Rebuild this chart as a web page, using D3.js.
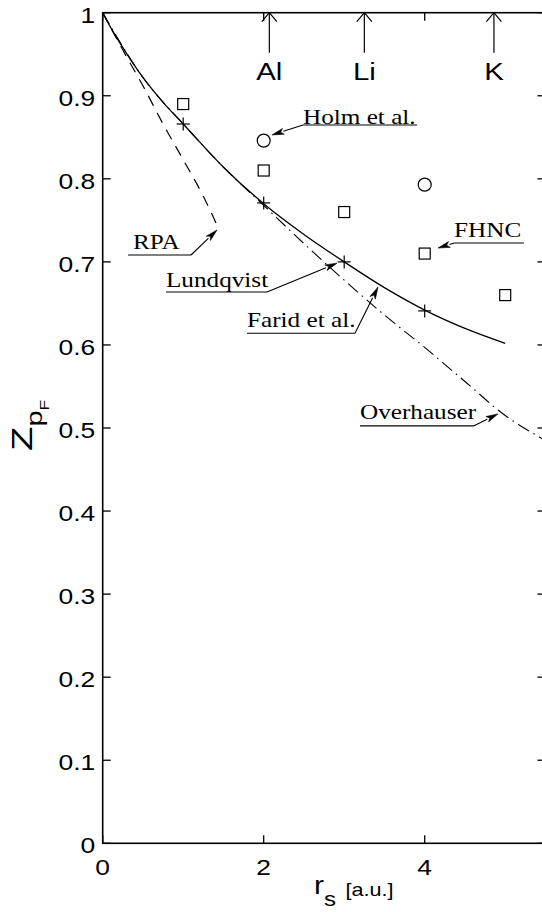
<!DOCTYPE html>
<html><head><meta charset="utf-8">
<script src="https://cdn.jsdelivr.net/npm/d3@7"></script>
<style>body{margin:0;background:#fff}svg{display:block}</style>
</head><body><svg id="c" width="542" height="912"></svg>
<script>
// ---- data ----
const solidR = [0, 0.1, 0.25, 0.5, 0.75, 1, 1.5, 2, 2.5, 3, 3.5, 4, 4.5, 5];
const solidZ = [1, 0.982, 0.958, 0.922, 0.892, 0.866, 0.814, 0.770, 0.733, 0.700, 0.669, 0.642, 0.620, 0.602];
const rpaR = [0, 0.25, 0.5, 0.75, 1, 1.25, 1.43];
const rpaZ = [1, 0.955, 0.912, 0.866, 0.823, 0.779, 0.742];
const ovR = [0, 0.5, 1, 1.5, 2, 2.5, 3, 3.5, 4, 4.5, 5, 5.5];
const ovZ = [1, 0.922, 0.866, 0.814, 0.768, 0.722, 0.678, 0.636, 0.597, 0.556, 0.515, 0.485];
const fhncR = [1, 2, 3, 4, 5];
const fhncZ = [0.89, 0.81, 0.76, 0.71, 0.66];
const holmR = [2, 4];
const holmZ = [0.846, 0.793];
const lundR = [1, 2, 3, 4];
const lundZ = [0.866, 0.771, 0.70, 0.641];
const metals = ["Al", "Li", "K"];
const metalRs = [2.07, 3.25, 4.86];
const yTicks = [0, 0.1, 0.2, 0.3, 0.4, 0.5, 0.6, 0.7, 0.8, 0.9, 1];
const yTickLabels = ["0", "0.1", "0.2", "0.3", "0.4", "0.5", "0.6", "0.7", "0.8", "0.9", "1"];
const xTicks = [0, 2, 4];
const xTickLabels = ["0", "2", "4"];
// annotations: label text, text start (r,Z), underline from r0 to r1 at Z, leader start side, arrow tip (r,Z)
const annLabels = ["Holm et al.", "FHNC", "RPA", "Lundqvist", "Farid et al.", "Overhauser"];
const annText = [[2.488, 0.8656], [4.364, 0.7300], [0.377, 0.7155], [0.786, 0.6697], [1.793, 0.6212], [3.196, 0.5110]];
const annLine = [[2.488, 3.904, 0.8648], [4.37, 5.232, 0.7228], [0.314, 1.097, 0.7083], [0.786, 2.041, 0.6637], [1.793, 3.134, 0.6140], [3.196, 4.612, 0.5026]];
const annFrom = ["left", "left", "right", "right", "right", "right"];
const annTip = [[2.103, 0.8528], [4.165, 0.7167], [1.42, 0.7384], [2.911, 0.6985], [3.42, 0.6697], [4.91, 0.5170]];

// ---- layout ----
const L = 102.7, T = 12.7, W = 442.75, H = 830.6;
const SX = 1.2;
const svg = d3.select("#c");
const x = d3.scaleLinear().domain([0, 5.5]).range([L, L + W]);
const y = d3.scaleLinear().domain([0, 1]).range([T + H, T]);

function stext(g, px, py, str, size, family, anchor) {
  return g.append("text")
    .attr("transform", `translate(${px},${py}) scale(${SX},1)`)
    .attr("font-family", family).attr("font-size", size)
    .attr("text-anchor", anchor || "start").attr("fill", "#000").text(str);
}
const SANS = "Liberation Sans, Arial, sans-serif";
const SERIF = "Liberation Serif, Times New Roman, serif";

// axes box
const ax = svg.append("g");
ax.append("rect").attr("x", L).attr("y", T).attr("width", W).attr("height", H)
  .attr("fill", "none").attr("stroke", "#000").attr("stroke-width", 1.6);
// y ticks
yTicks.forEach((t, i) => {
  ax.append("line").attr("x1", L).attr("x2", L + 8).attr("y1", y(t)).attr("y2", y(t)).attr("stroke", "#000").attr("stroke-width", 1.3);
  ax.append("line").attr("x1", L + W).attr("x2", L + W - 8).attr("y1", y(t)).attr("y2", y(t)).attr("stroke", "#000").attr("stroke-width", 1.3);
  stext(ax, L - 7.5, y(t) + 10, yTickLabels[i], 22, SANS, "end");
});
xTicks.forEach((t, i) => {
  ax.append("line").attr("x1", x(t)).attr("x2", x(t)).attr("y1", T + H).attr("y2", T + H - 8).attr("stroke", "#000").attr("stroke-width", 1.3);
  ax.append("line").attr("x1", x(t)).attr("x2", x(t)).attr("y1", T).attr("y2", T + 8).attr("stroke", "#000").attr("stroke-width", 1.3);
  stext(ax, x(t), 875, xTickLabels[i], 22, SANS, "middle");
});

// axis labels
const xl = svg.append("text").attr("transform", `translate(314,894) scale(${SX},1)`)
  .attr("font-family", SANS).attr("fill", "#000");
xl.append("tspan").attr("font-size", 25).text("r");
xl.append("tspan").attr("font-size", 20).attr("dy", 12).text("s");
xl.append("tspan").attr("font-size", 18).attr("dy", -10).attr("dx", 8).text("[a.u.]");

const yl = svg.append("text").attr("transform", `translate(32,451) rotate(-90) scale(1.6,1.2)`)
  .attr("font-family", SANS).attr("fill", "#000");
yl.append("tspan").attr("font-size", 25).text("Z");
yl.append("tspan").attr("font-size", 18).attr("dy", 8).text("p");
yl.append("tspan").attr("font-size", 11).attr("dy", 6).text("F");

// curves
const line = d3.line().x(d => x(d[0])).y(d => y(d[1])).curve(d3.curveMonotoneX);
const plot = svg.append("g");
plot.append("path").datum(ovR.map((r, i) => [r, ovZ[i]])).attr("d", line)
  .attr("fill", "none").attr("stroke", "#000").attr("stroke-width", 1.1).attr("stroke-dasharray", "13,5,1.5,5");
plot.append("path").datum(solidR.map((r, i) => [r, solidZ[i]])).attr("d", line)
  .attr("fill", "none").attr("stroke", "#000").attr("stroke-width", 1.3);
plot.append("path").datum(rpaR.map((r, i) => [r, rpaZ[i]])).attr("d", line)
  .attr("fill", "none").attr("stroke", "#000").attr("stroke-width", 1.2).attr("stroke-dasharray", "11,8");

// markers
fhncR.forEach((r, i) => plot.append("rect").attr("x", x(r) - 5.5).attr("y", y(fhncZ[i]) - 5.5)
  .attr("width", 11).attr("height", 11).attr("fill", "none").attr("stroke", "#000").attr("stroke-width", 1.2));
holmR.forEach((r, i) => plot.append("circle").attr("cx", x(r)).attr("cy", y(holmZ[i])).attr("r", 6.5)
  .attr("fill", "none").attr("stroke", "#000").attr("stroke-width", 1.2));
lundR.forEach((r, i) => {
  plot.append("line").attr("x1", x(r) - 6.5).attr("x2", x(r) + 6.5).attr("y1", y(lundZ[i])).attr("y2", y(lundZ[i])).attr("stroke", "#000").attr("stroke-width", 1.2);
  plot.append("line").attr("x1", x(r)).attr("x2", x(r)).attr("y1", y(lundZ[i]) - 6.5).attr("y2", y(lundZ[i]) + 6.5).attr("stroke", "#000").attr("stroke-width", 1.2);
});

// metal arrows at top
metals.forEach((m, i) => {
  const px = x(metalRs[i]);
  plot.append("line").attr("x1", px).attr("x2", px).attr("y1", T).attr("y2", T + 40).attr("stroke", "#000").attr("stroke-width", 1.2);
  plot.append("path").attr("d", `M${px - 7.5},${T + 9} L${px},${T} L${px + 7.5},${T + 9}`)
    .attr("fill", "none").attr("stroke", "#000").attr("stroke-width", 1.2);
  stext(plot, px, 80, m, 24.5, SANS, "middle");
});

// annotations
annLabels.forEach((lab, i) => {
  const g = svg.append("g");
  stext(g, x(annText[i][0]), y(annText[i][1]), lab, 21, SERIF, "start");
  const [r0, r1, zu] = annLine[i];
  const sx = annFrom[i] === "left" ? x(r0) : x(r1);
  const sy = y(zu);
  const tx = x(annTip[i][0]), ty = y(annTip[i][1]);
  g.append("line").attr("x1", x(r0)).attr("x2", x(r1)).attr("y1", sy).attr("y2", sy).attr("stroke", "#000").attr("stroke-width", 1.1);
  const dx = tx - sx, dy = ty - sy, len = Math.hypot(dx, dy);
  const ux = dx / len, uy = dy / len;
  const hl = 12, hw = 3;
  const bx = tx - ux * hl, by = ty - uy * hl;
  g.append("line").attr("x1", sx).attr("y1", sy).attr("x2", bx).attr("y2", by).attr("stroke", "#000").attr("stroke-width", 1.1);
  g.append("path").attr("d", `M${tx},${ty} L${bx - uy * hw},${by + ux * hw} L${bx + ux * 3},${by + uy * 3} L${bx + uy * hw},${by - ux * hw} Z`)
    .attr("fill", "#000").attr("stroke", "#000").attr("stroke-width", 0.6);
});
</script></body></html>
